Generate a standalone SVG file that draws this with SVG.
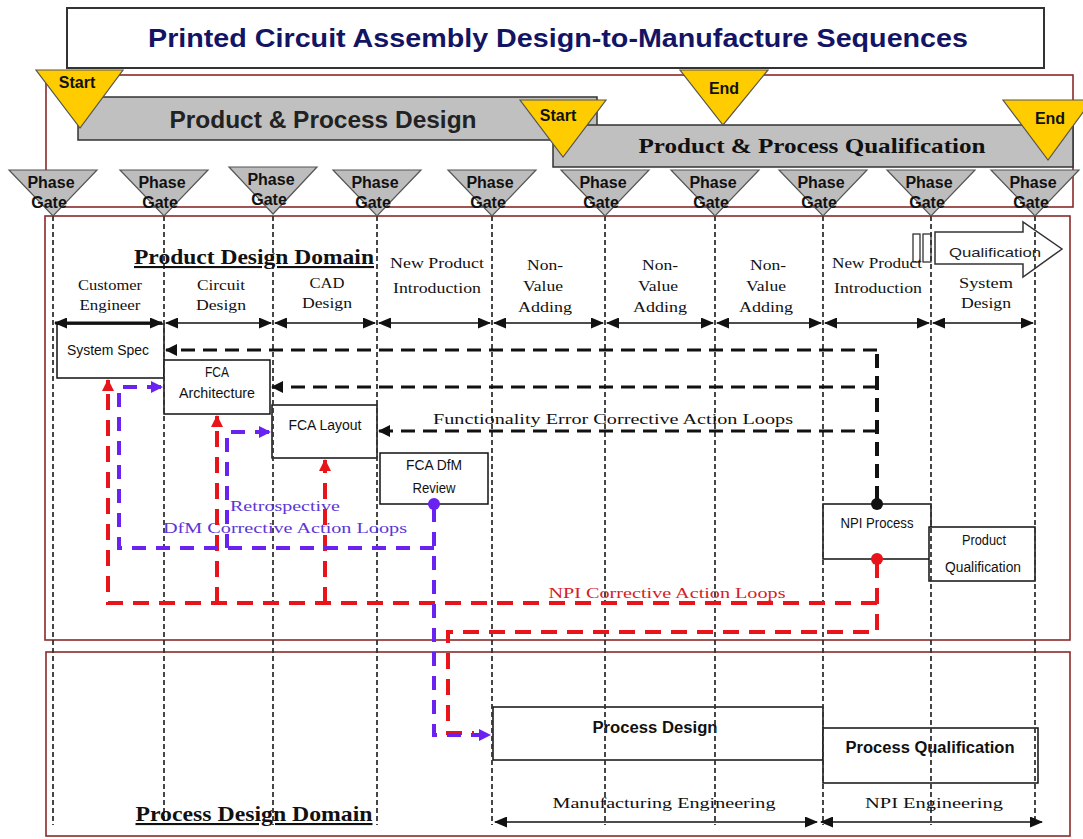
<svg xmlns="http://www.w3.org/2000/svg" width="1083" height="839" viewBox="0 0 1083 839">
<style>
.frame{fill:none;stroke:#8a2a2a;stroke-width:1.6}
.vline{stroke:#333;stroke-width:1.8;stroke-dasharray:5 3;fill:none}
.gate{fill:#bdbdbd;stroke:#555;stroke-width:1.2}
.yel{fill:#ffcc00;stroke:#555;stroke-width:1.2}
.bar{fill:#c0c0c0;stroke:#333;stroke-width:1.5}
.box{fill:#fff;stroke:#111;stroke-width:1.5}
.gt{font-family:"Liberation Sans Narrow","Liberation Sans",Arial,sans-serif;font-weight:bold;font-size:16px;fill:#111;text-anchor:middle}
.lab{font-family:"Liberation Serif","Times New Roman",serif;font-size:15px;fill:#111;text-anchor:middle}
.bx{font-family:"Liberation Sans Narrow","Liberation Sans",Arial,sans-serif;font-size:14px;fill:#111;text-anchor:middle}
.bxb{font-family:"Liberation Sans Narrow","Liberation Sans",Arial,sans-serif;font-size:16px;font-weight:bold;fill:#111;text-anchor:middle}
.dom{font-family:"Liberation Serif","Times New Roman",serif;font-size:21px;font-weight:bold;fill:#111;text-anchor:middle;text-decoration:underline}
.row{stroke:#111;stroke-width:1.6;fill:none;marker-start:url(#ah);marker-end:url(#ah)}
.blk{stroke:#111;stroke-width:3.2;stroke-dasharray:14 8;fill:none}
.red{stroke:#e8141a;stroke-width:4;stroke-dasharray:16 10;fill:none}
.pur{stroke:#6a22f0;stroke-width:4;stroke-dasharray:14 10;fill:none}
</style>
<defs>
<marker id="ah" markerUnits="userSpaceOnUse" markerWidth="13" markerHeight="11" refX="12" refY="5.5" orient="auto-start-reverse"><path d="M0,0 L13,5.5 L0,11 z" fill="#111"/></marker>
<marker id="ahb" markerUnits="userSpaceOnUse" markerWidth="12" markerHeight="12" refX="11" refY="6" orient="auto"><path d="M0,0 L12,6 L0,12 z" fill="#111"/></marker>
<marker id="ahr" markerUnits="userSpaceOnUse" markerWidth="12" markerHeight="12" refX="11" refY="6" orient="auto"><path d="M0,0 L12,6 L0,12 z" fill="#e8141a"/></marker>
<marker id="ahp" markerUnits="userSpaceOnUse" markerWidth="12" markerHeight="12" refX="11" refY="6" orient="auto"><path d="M0,0 L12,6 L0,12 z" fill="#6a22f0"/></marker>
</defs>
<rect width="1083" height="839" fill="#fff"/>

<g id="frames">
<rect class="frame" x="46" y="75" width="1027" height="132"/>
<rect class="frame" x="45" y="216" width="1025" height="424"/>
<rect class="frame" x="46" y="652" width="1024" height="184"/>
</g>

<g id="title">
<rect x="67" y="8" width="977" height="60" fill="#fff" stroke="#333" stroke-width="2"/>
<text x="558" y="47" font-family="'Liberation Sans Narrow','Liberation Sans',Arial,sans-serif" font-weight="bold" font-size="25" fill="#141464" text-anchor="middle" textLength="820" lengthAdjust="spacingAndGlyphs">Printed Circuit Assembly Design-to-Manufacture Sequences</text>
</g>

<g id="phase-bars">
<rect class="bar" x="78" y="97" width="519" height="43"/>
<text x="323" y="128" font-family="'Liberation Sans',Arial,sans-serif" font-weight="bold" font-size="24" fill="#222" text-anchor="middle" textLength="307" lengthAdjust="spacingAndGlyphs">Product &amp; Process Design</text>
<rect class="bar" x="553" y="125" width="520" height="42"/>
<text x="812" y="153" font-family="'Liberation Serif','Times New Roman',serif" font-weight="bold" font-size="21" fill="#111" text-anchor="middle" textLength="347" lengthAdjust="spacingAndGlyphs">Product &amp; Process Qualification</text>
</g>

<g id="start1"><polygon class="yel" points="36,70 123,70 80,128"/><text class="gt" x="77" y="88" font-size="15">Start</text></g>
<g id="start2"><polygon class="yel" points="520,100 606,100 563,157"/><text class="gt" x="558" y="121" font-size="15">Start</text></g>
<g id="end1"><polygon class="yel" points="680,70 768,70 723,125"/><text class="gt" x="724" y="94" font-size="15">End</text></g>
<g id="end2"><polygon class="yel" points="1003,100 1092,100 1048,160"/><text class="gt" x="1050" y="124" font-size="15">End</text></g>

<g id="system-spec"><rect class="box" x="57" y="324" width="107" height="54"/><text class="bx" x="108" y="355" textLength="82" lengthAdjust="spacingAndGlyphs">System Spec</text></g>
<g id="fca-architecture"><rect class="box" x="164" y="360" width="106" height="54"/><text class="bx" x="217" y="377" textLength="24" lengthAdjust="spacingAndGlyphs">FCA</text><text class="bx" x="217" y="398" textLength="76" lengthAdjust="spacingAndGlyphs">Architecture</text></g>
<g id="fca-layout"><rect class="box" x="272" y="405" width="105" height="53"/><text class="bx" x="325" y="430" textLength="73" lengthAdjust="spacingAndGlyphs">FCA Layout</text></g>
<g id="fca-dfm-review"><rect class="box" x="380" y="453" width="108" height="51"/><text class="bx" x="434" y="470" textLength="56" lengthAdjust="spacingAndGlyphs">FCA DfM</text><text class="bx" x="434" y="493" textLength="43" lengthAdjust="spacingAndGlyphs">Review</text></g>
<g id="npi-process"><rect class="box" x="823" y="504" width="108" height="55"/><text class="bx" x="877" y="528" textLength="73" lengthAdjust="spacingAndGlyphs">NPI Process</text></g>
<g id="product-qualification"><rect class="box" x="929" y="527" width="106" height="54"/><text class="bx" x="984" y="545" textLength="44" lengthAdjust="spacingAndGlyphs">Product</text><text class="bx" x="983" y="572" textLength="76" lengthAdjust="spacingAndGlyphs">Qualification</text></g>
<g id="process-design"><rect class="box" x="493" y="707" width="330" height="53"/><text class="bxb" x="655" y="733" textLength="125" lengthAdjust="spacingAndGlyphs">Process Design</text></g>
<g id="process-qualification"><rect class="box" x="823" y="728" width="215" height="55"/><text class="bxb" x="930" y="753" textLength="169" lengthAdjust="spacingAndGlyphs">Process Qualification</text></g>

<g id="qualification-arrow">
<rect x="913" y="234" width="7" height="28" fill="#fff" stroke="#333" stroke-width="1.3"/>
<rect x="923" y="234" width="8" height="28" fill="#fff" stroke="#333" stroke-width="1.3"/>
<polygon points="935,232 1023,232 1023,222 1062,249 1023,277 1023,264 935,264" fill="#fff" stroke="#333" stroke-width="1.5"/>
<text x="995" y="257" font-family="'Liberation Sans',Arial,sans-serif" font-size="13" fill="#222" text-anchor="middle" textLength="92" lengthAdjust="spacingAndGlyphs">Qualification</text>
</g>

<g id="grid">
<path class="vline" d="M53,216V825M164,216V825M273,216V825M377,216V825M492,216V825M605,216V825M715,216V825M823,216V825M931,216V825M1035,216V825"/>
</g>

<g id="gates">
<g id="gate1"><polygon class="gate" points="9,170 97,170 53,216"/><text class="gt" x="51" y="188">Phase</text><text class="gt" x="49" y="208">Gate</text></g>
<g id="gate2"><polygon class="gate" points="120,170 208,170 164,216"/><text class="gt" x="162" y="188">Phase</text><text class="gt" x="160" y="208">Gate</text></g>
<g id="gate3"><polygon class="gate" points="229,167 317,167 273,214"/><text class="gt" x="271" y="185">Phase</text><text class="gt" x="269" y="205">Gate</text></g>
<g id="gate4"><polygon class="gate" points="333,170 421,170 377,216"/><text class="gt" x="375" y="188">Phase</text><text class="gt" x="373" y="208">Gate</text></g>
<g id="gate5"><polygon class="gate" points="448,170 536,170 492,216"/><text class="gt" x="490" y="188">Phase</text><text class="gt" x="488" y="208">Gate</text></g>
<g id="gate6"><polygon class="gate" points="561,170 649,170 605,216"/><text class="gt" x="603" y="188">Phase</text><text class="gt" x="601" y="208">Gate</text></g>
<g id="gate7"><polygon class="gate" points="671,170 759,170 715,216"/><text class="gt" x="713" y="188">Phase</text><text class="gt" x="711" y="208">Gate</text></g>
<g id="gate8"><polygon class="gate" points="779,170 867,170 823,216"/><text class="gt" x="821" y="188">Phase</text><text class="gt" x="819" y="208">Gate</text></g>
<g id="gate9"><polygon class="gate" points="887,170 975,170 931,216"/><text class="gt" x="929" y="188">Phase</text><text class="gt" x="927" y="208">Gate</text></g>
<g id="gate10"><polygon class="gate" points="991,170 1079,170 1035,216"/><text class="gt" x="1033" y="188">Phase</text><text class="gt" x="1031" y="208">Gate</text></g>
</g>

<g id="labels">
<text class="dom" x="254" y="264" textLength="240" lengthAdjust="spacingAndGlyphs">Product Design Domain</text>
<text class="dom" x="254" y="821" textLength="237" lengthAdjust="spacingAndGlyphs">Process Design Domain</text>
<text class="lab" x="110" y="290" textLength="64" lengthAdjust="spacingAndGlyphs">Customer</text>
<text class="lab" x="110" y="310" textLength="61" lengthAdjust="spacingAndGlyphs">Engineer</text>
<text class="lab" x="221" y="290" textLength="48" lengthAdjust="spacingAndGlyphs">Circuit</text>
<text class="lab" x="221" y="310" textLength="50" lengthAdjust="spacingAndGlyphs">Design</text>
<text class="lab" x="327" y="288" textLength="35" lengthAdjust="spacingAndGlyphs">CAD</text>
<text class="lab" x="327" y="308" textLength="50" lengthAdjust="spacingAndGlyphs">Design</text>
<text class="lab" x="437" y="268" textLength="94" lengthAdjust="spacingAndGlyphs">New Product</text>
<text class="lab" x="437" y="293" textLength="88" lengthAdjust="spacingAndGlyphs">Introduction</text>
<text class="lab" x="545" y="270" textLength="36" lengthAdjust="spacingAndGlyphs">Non-</text>
<text class="lab" x="543" y="291" textLength="40" lengthAdjust="spacingAndGlyphs">Value</text>
<text class="lab" x="545" y="312" textLength="54" lengthAdjust="spacingAndGlyphs">Adding</text>
<text class="lab" x="660" y="270" textLength="36" lengthAdjust="spacingAndGlyphs">Non-</text>
<text class="lab" x="658" y="291" textLength="40" lengthAdjust="spacingAndGlyphs">Value</text>
<text class="lab" x="660" y="312" textLength="54" lengthAdjust="spacingAndGlyphs">Adding</text>
<text class="lab" x="768" y="270" textLength="36" lengthAdjust="spacingAndGlyphs">Non-</text>
<text class="lab" x="766" y="291" textLength="40" lengthAdjust="spacingAndGlyphs">Value</text>
<text class="lab" x="766" y="312" textLength="54" lengthAdjust="spacingAndGlyphs">Adding</text>
<text class="lab" x="877" y="268" textLength="90" lengthAdjust="spacingAndGlyphs">New Product</text>
<text class="lab" x="878" y="293" textLength="88" lengthAdjust="spacingAndGlyphs">Introduction</text>
<text class="lab" x="986" y="288" textLength="54" lengthAdjust="spacingAndGlyphs">System</text>
<text class="lab" x="986" y="308" textLength="50" lengthAdjust="spacingAndGlyphs">Design</text>
<text class="lab" x="664" y="808" font-size="16" textLength="223" lengthAdjust="spacingAndGlyphs">Manufacturing Engineering</text>
<text class="lab" x="934" y="808" font-size="16" textLength="138" lengthAdjust="spacingAndGlyphs">NPI Engineering</text>
<text class="lab" x="613" y="424" font-size="17" textLength="360" lengthAdjust="spacingAndGlyphs">Functionality Error Corrective Action Loops</text>
<text class="lab" x="285" y="511" font-size="16" style="fill:#5a36d8" textLength="110" lengthAdjust="spacingAndGlyphs">Retrospective</text>
<text class="lab" x="285" y="533" font-size="16" style="fill:#5a36d8" textLength="244" lengthAdjust="spacingAndGlyphs">DfM Corrective Action Loops</text>
<text class="lab" x="667" y="598" font-size="16" style="fill:#d42028" textLength="237" lengthAdjust="spacingAndGlyphs">NPI Corrective Action Loops</text>
</g>

<g id="connectors">
<path class="row" style="stroke-width:3" d="M55,323H162"/>
<path class="row" d="M166,323H271"/>
<path class="row" d="M275,323H375"/>
<path class="row" d="M379,323H490"/>
<path class="row" d="M494,323H603"/>
<path class="row" d="M607,323H713"/>
<path class="row" d="M717,323H821"/>
<path class="row" d="M825,323H929"/>
<path class="row" d="M933,323H1033"/>
<path class="row" d="M495,822H817"/>
<path class="row" d="M821,822H1042"/>

<path class="blk" style="stroke-width:4" d="M877,500V350"/>
<path class="blk" d="M877,350H166" marker-end="url(#ahb)"/>
<path class="blk" d="M877,387H272" marker-end="url(#ahb)"/>
<path class="blk" d="M877,431H379" marker-end="url(#ahb)"/>
<circle cx="877" cy="504" r="6" fill="#111"/>

<path class="red" d="M877,562V632H448V733H474"/>
<path class="red" d="M877,603H108V380" marker-end="url(#ahr)"/>
<path class="red" d="M217,603V416" marker-end="url(#ahr)"/>
<path class="red" d="M325,603V460" marker-end="url(#ahr)"/>
<circle cx="877" cy="559" r="6" fill="#e8141a"/>

<path class="pur" d="M434,508V735H490" marker-end="url(#ahp)"/>
<path class="pur" d="M434,548H119V387H162" marker-end="url(#ahp)"/>
<path class="pur" d="M227,548V432H270" marker-end="url(#ahp)"/>
<circle cx="434" cy="504" r="6" fill="#6a22f0"/>
</g>
</svg>
